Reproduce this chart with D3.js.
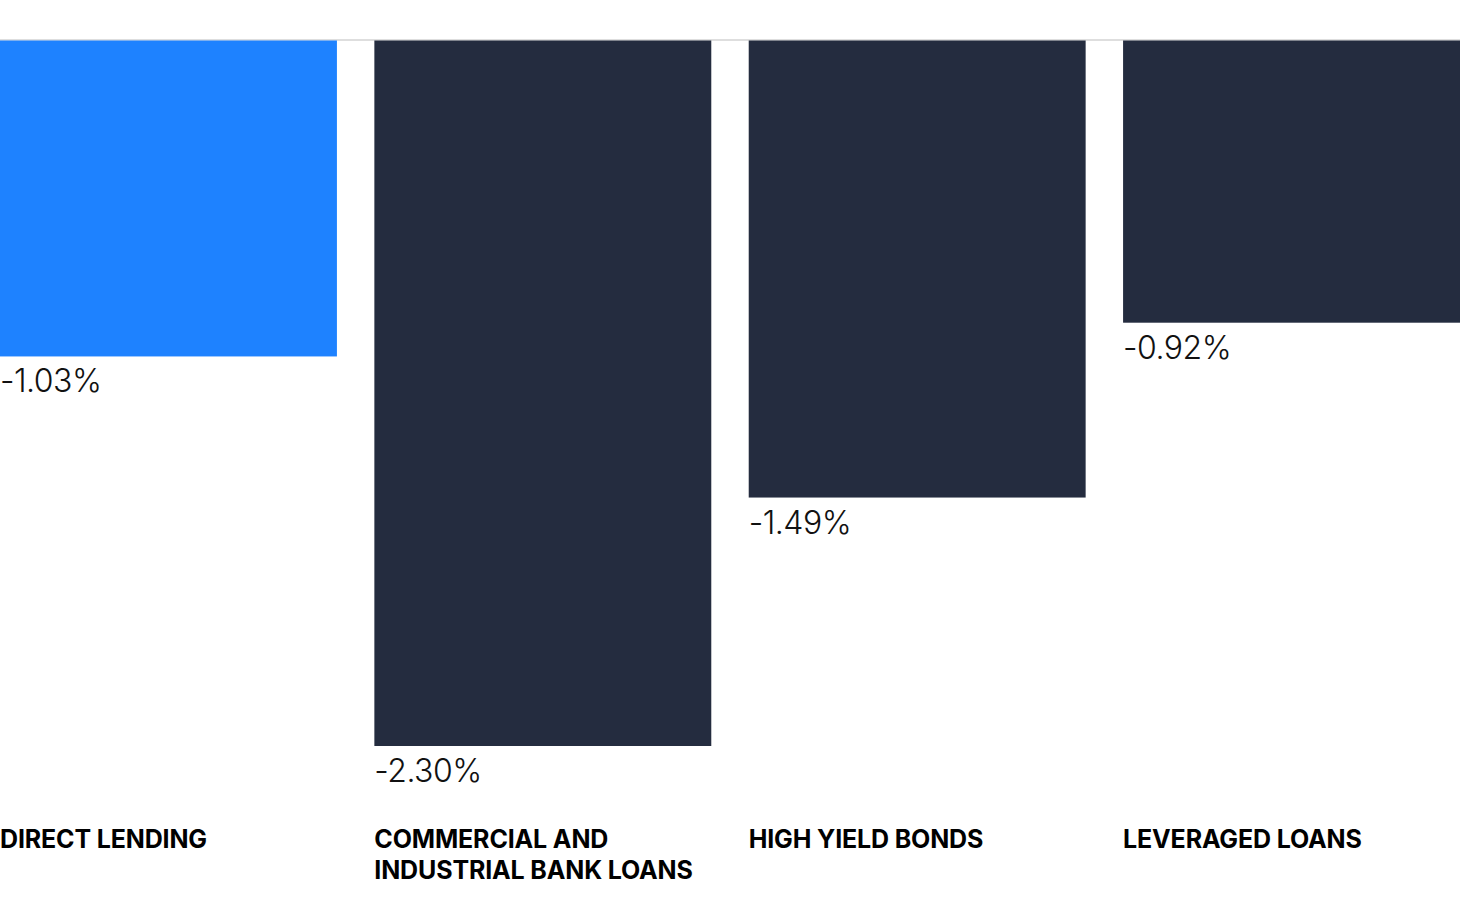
<!DOCTYPE html>
<html><head><meta charset="utf-8">
<script src="https://cdn.jsdelivr.net/npm/d3@7"></script>
<style>
html,body{margin:0;padding:0;background:#fff;}
svg{display:block;}
</style></head>
<body>
<script>
const categories = ["DIRECT LENDING", "COMMERCIAL AND|INDUSTRIAL BANK LOANS", "HIGH YIELD BONDS", "LEVERAGED LOANS"];
const values = [-1.03, -2.30, -1.49, -0.92];
const colors = ["#1e82ff", "#242c3f", "#242c3f", "#242c3f"];

const W = 1460, H = 901;
const svg = d3.select("body").append("svg").attr("width", W).attr("height", H);

const x = d3.scaleBand().domain(categories).range([0, W]).paddingInner(0.1).paddingOuter(0);
const y = d3.scaleLinear().domain([0, -2.30]).range([40.5, 746]);

const data = categories.map((c, i) => ({c, v: values[i], col: colors[i]}));

svg.append("line").attr("x1", 0).attr("x2", W).attr("y1", 40).attr("y2", 40)
  .attr("stroke", "#bdbdbd").attr("stroke-width", 1);

svg.selectAll("rect.bar").data(data).enter().append("rect")
  .attr("class", "bar")
  .attr("x", d => x(d.c))
  .attr("y", y(0))
  .attr("width", x.bandwidth())
  .attr("height", d => y(d.v) - y(0))
  .attr("fill", d => d.col);

svg.selectAll("text.val").data(data).enter().append("text")
  .attr("class", "val")
  .attr("x", d => x(d.c))
  .attr("y", d => y(d.v) + 36)
  .attr("font-family", "Inter, 'Noto Sans', sans-serif")
  .attr("font-weight", 300)
  .attr("font-size", 32)
  .attr("letter-spacing", -0.5)
  .attr("fill", "#111")
  .text(d => "-" + Math.abs(d.v).toFixed(2) + "%");

const cat = svg.selectAll("text.cat").data(data).enter().append("text")
  .attr("class", "cat")
  .attr("x", d => x(d.c))
  .attr("y", 848)
  .attr("font-family", "Inter, 'Noto Sans', sans-serif")
  .attr("font-weight", 700)
  .attr("font-size", 25)
  .attr("letter-spacing", -0.15)
  .attr("fill", "#000");
cat.each(function(d) {
  const lines = d.c.split("|");
  d3.select(this).selectAll("tspan").data(lines).enter().append("tspan")
    .attr("x", x(d.c))
    .attr("dy", (l, i) => i === 0 ? 0 : 31)
    .text(l => l);
});
</script>
</body></html>
